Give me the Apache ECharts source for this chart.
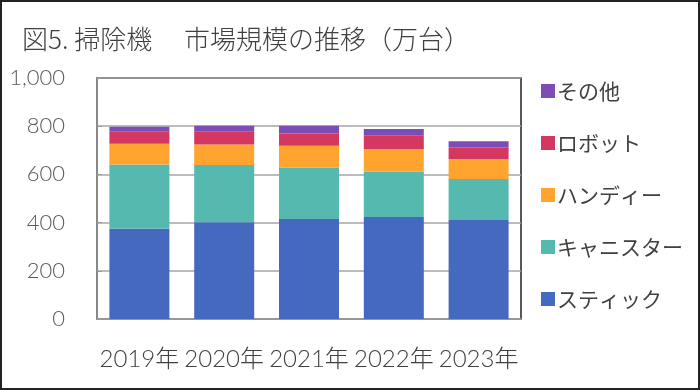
<!DOCTYPE html>
<html><head><meta charset="utf-8">
<script src="https://cdn.jsdelivr.net/npm/echarts@6/dist/echarts.min.js"></script>
<style>
html,body{margin:0;padding:0;background:#fff;}
#wrap{width:700px;height:390px;box-sizing:border-box;border:2px solid #222;position:relative;overflow:hidden;}
#c{position:absolute;left:-2px;top:-2px;width:700px;height:390px;}
</style></head>
<body><div id="wrap"><div id="c"></div></div>
<script>
const title = '図5. 掃除機　 市場規模の推移（万台）';
const categories = ['2019年','2020年','2021年','2022年','2023年'];
const stick     = [375, 401, 415, 423, 411];
const canister  = [266, 238, 213, 189, 170];
const handy     = [86, 85, 91, 92, 83];
const robot     = [50, 53, 51, 58, 48];
const other     = [21, 25, 32, 26, 26];
const yTicks = [0, 200, 400, 600, 800, 1000];

const names = ['スティック','キャニスター','ハンディー','ロボット','その他'];
const colors = ['#4569BF','#55B9B0','#FFA42E','#D43760','#7B4DB5'];
const values = [stick, canister, handy, robot, other];

const chart = echarts.init(document.getElementById('c'), null, {renderer:'canvas'});
chart.setOption({
  animation:false,
  title:{text:title,left:17,top:21,textStyle:{fontFamily:'"Noto Sans CJK JP"',fontSize:26,fontWeight:300,color:'#404040'}},
  grid:{left:97,right:179,top:78,bottom:71,show:true,borderColor:'#222',borderWidth:1.5},
  legend:{
    orient:'vertical',left:536,top:75,itemGap:30,itemWidth:14,itemHeight:14,icon:'rect',
    data:['その他','ロボット','ハンディー','キャニスター','スティック'],
    textStyle:{fontFamily:'"Noto Sans CJK JP"',fontSize:21,lineHeight:22,color:'#404040',padding:[0,0,0,-3]}
  },
  xAxis:{type:'category',data:categories,
    axisLine:{lineStyle:{color:'#999',width:1.5}},axisTick:{show:false},
    axisLabel:{interval:0,fontFamily:'Lato, "Noto Sans CJK JP"',fontSize:24,fontWeight:300,color:'#404040',margin:28}
  },
  yAxis:{type:'value',min:yTicks[0],max:yTicks[yTicks.length-1],interval:yTicks[1]-yTicks[0],
    axisLine:{show:true,lineStyle:{color:'#999',width:1.5}},
    axisTick:{show:true,inside:true,length:5,lineStyle:{color:'#999'}},
    splitLine:{lineStyle:{color:'#a6a6a6',width:1.5}},
    axisLabel:{fontFamily:'Lato',fontSize:22,fontWeight:300,color:'#595959',margin:32,
      formatter:v=>v.toLocaleString('en-US')}
  },
  series:names.map((n,i)=>({
    name:n,type:'bar',stack:'total',data:values[i],barWidth:60,
    itemStyle:{color:colors[i]}
  }))
});
</script></body></html>
